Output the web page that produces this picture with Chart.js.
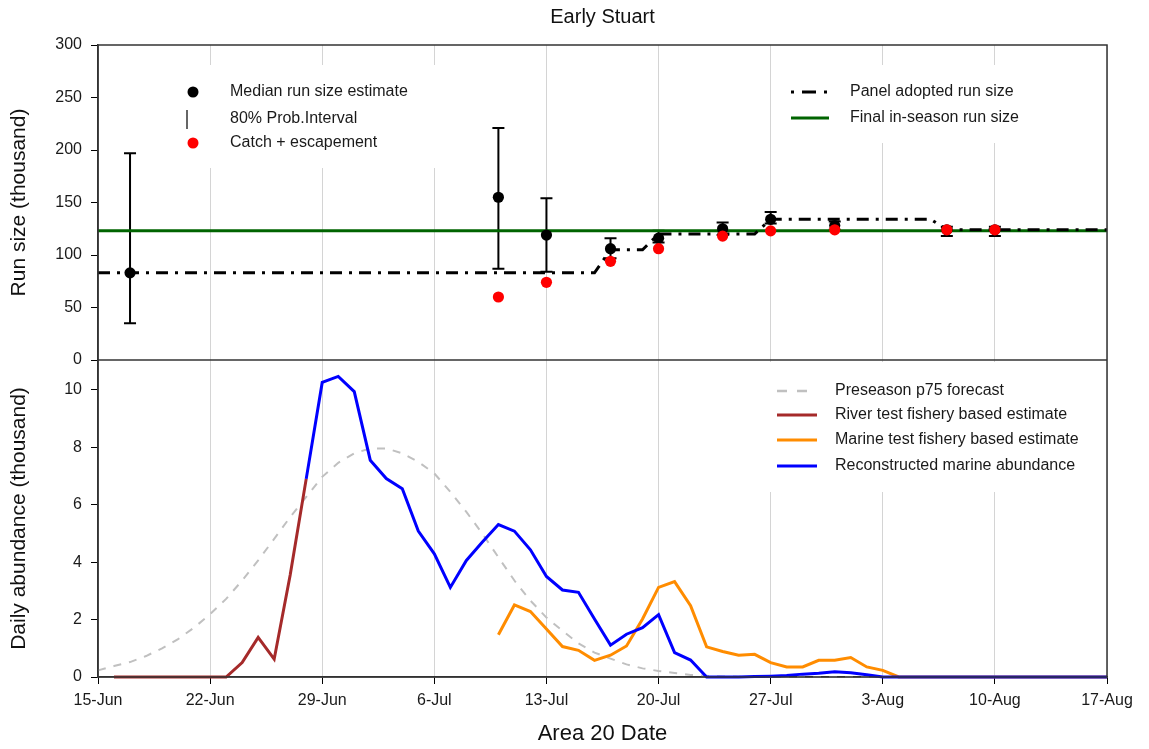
<!DOCTYPE html>
<html>
<head>
<meta charset="utf-8">
<script src="https://cdn.jsdelivr.net/npm/chart.js@4.4.1/dist/chart.umd.min.js"></script>
<style>
  html, body { margin: 0; padding: 0; background: #fff; }
  canvas { display: block; }
</style>
</head>
<body>
<canvas id="runChart" width="1149" height="749"></canvas>
<script>
// Early Stuart: in-season run size (top) and daily abundance (bottom)
// x axis is a day number counted from 15-Jun

const FONT = '"Liberation Sans", Arial, sans-serif';

// ---- top panel (thousand fish) ----
const estDates = ["17-Jun", "10-Jul", "13-Jul", "17-Jul", "20-Jul", "24-Jul", "27-Jul", "31-Jul", "7-Aug", "10-Aug"];
const estMedian = [83, 155, 119, 106, 116, 125, 134, 128, 124, 124];
const estLow = [35, 87, 84, 97, 112, 119, 130, 124, 118, 118];
const estHigh = [197, 221, 154, 116, 123, 131, 141, 132, 127, 127];

const catchDates = ["10-Jul", "13-Jul", "17-Jul", "20-Jul", "24-Jul", "27-Jul", "31-Jul", "7-Aug", "10-Aug"];
const catchEsc = [60, 74, 94, 106, 118, 123, 124, 124, 124];

const panelDates = ["15-Jun", "16-Jul", "17-Jul", "19-Jul", "20-Jul", "26-Jul", "27-Jul", "6-Aug", "7-Aug", "17-Aug"];
const panelRunSize = [83, 83, 105, 105, 120, 120, 134, 134, 124, 124];

const finalRunSize = 123;

// ---- bottom panel, daily values (thousand fish) ----
const forecastStart = "15-Jun";
const forecastP75 = [0.23, 0.38, 0.52, 0.73, 1.0, 1.32, 1.72, 2.19, 2.72, 3.36, 4.06, 4.81, 5.57, 6.27,
  6.97, 7.46, 7.79, 7.96, 7.96, 7.79, 7.49, 7.09, 6.45, 5.75, 4.99, 4.17, 3.36, 2.66, 2.07, 1.61,
  1.17, 0.85, 0.64, 0.44, 0.3, 0.21, 0.14, 0.07, 0.04, 0.02, 0.01, 0, 0, 0, 0, 0, 0, 0, 0, 0, 0,
  0, 0, 0, 0, 0, 0, 0, 0, 0, 0, 0, 0, 0];

const riverStart = "16-Jun";
const riverEst = [0, 0, 0, 0, 0, 0, 0, 0, 0.5, 1.38, 0.62, 3.55, 6.9];

const marineStart = "10-Jul";
const marineEst = [1.47, 2.51, 2.28, 1.67, 1.06, 0.93, 0.58, 0.76, 1.08, 2.02, 3.12, 3.32, 2.48, 1.05,
  0.89, 0.76, 0.79, 0.5, 0.35, 0.35, 0.58, 0.58, 0.68, 0.35, 0.23, 0, 0, 0, 0, 0, 0, 0, 0, 0, 0, 0, 0, 0, 0];

const reconStart = "28-Jun";
const reconAbund = [6.9, 10.26, 10.47, 9.94, 7.55, 6.91, 6.56, 5.08, 4.29, 3.12, 4.06, 4.7, 5.31, 5.08,
  4.43, 3.5, 3.03, 2.95, 2.02, 1.11, 1.49, 1.72, 2.17, 0.85, 0.59, 0, 0, 0, 0.02, 0.03, 0.05, 0.1,
  0.13, 0.18, 0.15, 0.08, 0, 0, 0, 0, 0, 0, 0, 0, 0, 0, 0, 0, 0, 0, 0];

const dayOf = (s) => {
  const [d, m] = s.split("-");
  return +d + { Jun: -15, Jul: 15, Aug: 46 }[m];
};
const dateLabel = (v) => (v < 16 ? `${v + 15}-Jun` : v < 47 ? `${v - 15}-Jul` : `${v - 46}-Aug`);
const pairs = (dates, vals) => dates.map((d, i) => ({ x: dayOf(d), y: vals[i] }));
const daily = (start, vals) => vals.map((y, i) => ({ x: dayOf(start) + i, y }));

const DASHDOT = [12, 7, 3, 7];

// legend boxes, grid masks, error bars and the panel frame
const panelDecor = {
  id: "panelDecor",
  beforeDatasetsDraw(chart) {
    const { ctx, chartArea: a, scales: { x, yT, yB } } = chart;
    ctx.save();
    ctx.fillStyle = "#fff";
    ctx.fillRect(a.left + 62, a.top + 20, 285, 103);
    ctx.fillRect(a.left + 677, a.top + 20, 290, 78);
    ctx.fillRect(a.left + 662, yB.top + 2, 340, 130);

    ctx.strokeStyle = "#000";
    ctx.lineWidth = 2;
    estDates.forEach((d, i) => {
      const px = x.getPixelForValue(dayOf(d));
      const lo = yT.getPixelForValue(estLow[i]);
      const hi = yT.getPixelForValue(estHigh[i]);
      ctx.beginPath();
      ctx.moveTo(px, lo); ctx.lineTo(px, hi);
      ctx.moveTo(px - 6, lo); ctx.lineTo(px + 6, lo);
      ctx.moveTo(px - 6, hi); ctx.lineTo(px + 6, hi);
      ctx.stroke();
    });
    ctx.restore();
  },
  afterDraw(chart) {
    const { ctx, chartArea: a, scales: { yB } } = chart;
    ctx.save();
    ctx.strokeStyle = "#333";
    ctx.lineWidth = 1.5;
    ctx.strokeRect(a.left, a.top, a.right - a.left, a.bottom - a.top);
    ctx.beginPath();
    ctx.moveTo(a.left, yB.top); ctx.lineTo(a.right, yB.top);
    ctx.stroke();

    ctx.font = `16px ${FONT}`;
    ctx.fillStyle = "#1a1a1a";
    ctx.textBaseline = "middle";
    const text = (t, tx, ty) => ctx.fillText(t, tx, ty);
    const seg = (x0, x1, yy, color, w, dash) => {
      ctx.beginPath();
      ctx.setLineDash(dash || []);
      ctx.strokeStyle = color;
      ctx.lineWidth = w;
      ctx.moveTo(x0, yy); ctx.lineTo(x1, yy);
      ctx.stroke();
      ctx.setLineDash([]);
    };
    const dot = (cx, cy, color) => {
      ctx.beginPath();
      ctx.fillStyle = color;
      ctx.arc(cx, cy, 5.5, 0, Math.PI * 2);
      ctx.fill();
      ctx.fillStyle = "#1a1a1a";
    };

    // top-left legend
    let lx = a.left + 95, tx = a.left + 132, ly = a.top + 47;
    dot(lx, ly, "#000"); text("Median run size estimate", tx, ly);
    ctx.beginPath(); ctx.strokeStyle = "#333"; ctx.lineWidth = 1.5;
    ctx.moveTo(lx - 6, ly + 18); ctx.lineTo(lx - 6, ly + 37); ctx.stroke();
    text("80% Prob.Interval", tx, ly + 27);
    dot(lx, ly + 51, "#ff0000"); text("Catch + escapement", tx, ly + 51);

    // top-right legend
    lx = a.left + 693; tx = a.left + 752;
    seg(lx, lx + 38, ly, "#000", 3, [3, 8, 14, 8]); text("Panel adopted run size", tx, ly);
    seg(lx, lx + 38, ly + 26, "#006400", 3); text("Final in-season run size", tx, ly + 26);

    // bottom legend
    lx = a.left + 679; tx = a.left + 737; ly = yB.top + 31;
    seg(lx, lx + 40, ly, "#c0c0c0", 2.5, [10, 10]); text("Preseason p75 forecast", tx, ly);
    seg(lx, lx + 40, ly + 24, "#a52a2a", 3); text("River test fishery based estimate", tx, ly + 24);
    seg(lx, lx + 40, ly + 49, "#ff8c00", 3); text("Marine test fishery based estimate", tx, ly + 49);
    seg(lx, lx + 40, ly + 75, "#0000ff", 3); text("Reconstructed marine abundance", tx, ly + 75);
    ctx.restore();
  },
};

const lineDs = (label, data, color, width, yAxisID, order, extra) => ({
  type: "line", label, data, yAxisID, order,
  borderColor: color, backgroundColor: color, borderWidth: width,
  pointRadius: 0, tension: 0, clip: 6, ...extra,
});
const dotDs = (label, data, color, order) => ({
  type: "scatter", label, data, yAxisID: "yT", order,
  backgroundColor: color, borderColor: color, borderWidth: 0,
  pointRadius: 5.6, pointHoverRadius: 5.6, showLine: false,
});

new Chart(document.getElementById("runChart"), {
  data: {
    datasets: [
      dotDs("Catch + escapement", pairs(catchDates, catchEsc), "#ff0000", 1),
      dotDs("Median run size estimate", pairs(estDates, estMedian), "#000000", 2),
      lineDs("Panel adopted run size", pairs(panelDates, panelRunSize), "#000000", 3, "yT", 3, { borderDash: DASHDOT }),
      lineDs("Final in-season run size", [{ x: 0, y: finalRunSize }, { x: 63, y: finalRunSize }], "#006400", 3, "yT", 4),
      lineDs("Reconstructed marine abundance", daily(reconStart, reconAbund), "#0000ff", 3, "yB", 5),
      lineDs("Marine test fishery based estimate", daily(marineStart, marineEst), "#ff8c00", 3, "yB", 6),
      lineDs("River test fishery based estimate", daily(riverStart, riverEst), "#a52a2a", 3, "yB", 7),
      lineDs("Preseason p75 forecast", daily(forecastStart, forecastP75), "#c0c0c0", 2, "yB", 8, { borderDash: [8, 8] }),
    ],
  },
  options: {
    responsive: false,
    animation: false,
    events: [],
    layout: { padding: { left: 0, right: 42, top: 0, bottom: 0 } },
    plugins: {
      legend: { display: false },
      tooltip: { enabled: false },
      title: {
        display: true,
        text: "Early Stuart",
        fullSize: false,
        color: "#111",
        font: { family: FONT, size: 20, weight: "normal" },
        padding: { top: 5, bottom: 16 },
      },
    },
    scales: {
      x: {
        type: "linear",
        min: 0,
        max: 63,
        afterFit: (s) => { s.height = 72; },
        ticks: {
          stepSize: 7,
          padding: 7,
          maxRotation: 0,
          color: "#1a1a1a",
          font: { family: FONT, size: 16 },
          callback: (v) => dateLabel(v),
        },
        grid: { color: "#d4d4d4", lineWidth: 1, tickColor: "#000", tickLength: 7 },
        border: { display: true, color: "#333", width: 1.5 },
        title: {
          display: true,
          text: "Area 20 Date",
          color: "#111",
          font: { family: FONT, size: 22 },
          padding: { top: 0, bottom: 2 },
        },
      },
      yB: {
        type: "linear",
        position: "left",
        stack: "panels",
        stackWeight: 317,
        min: 0,
        max: 11.04,
        afterFit: (s) => { s.width = 98; },
        ticks: {
          stepSize: 2,
          includeBounds: false,
          padding: 9,
          color: "#1a1a1a",
          font: { family: FONT, size: 16 },
        },
        grid: { drawOnChartArea: false, tickColor: "#000", tickLength: 7 },
        border: { display: true, color: "#333", width: 1.5 },
        title: {
          display: true,
          text: "Daily abundance (thousand)",
          color: "#111",
          font: { family: FONT, size: 21 },
          padding: { top: 7, bottom: 0 },
        },
      },
      yT: {
        type: "linear",
        position: "left",
        stack: "panels",
        stackWeight: 315,
        min: 0,
        max: 300,
        afterFit: (s) => { s.width = 98; },
        ticks: {
          stepSize: 50,
          padding: 9,
          color: "#1a1a1a",
          font: { family: FONT, size: 16 },
        },
        grid: { drawOnChartArea: false, tickColor: "#000", tickLength: 7 },
        border: { display: true, color: "#333", width: 1.5 },
        title: {
          display: true,
          text: "Run size (thousand)",
          color: "#111",
          font: { family: FONT, size: 21 },
          padding: { top: 7, bottom: 0 },
        },
      },
    },
  },
  plugins: [panelDecor],
});
</script>
</body>
</html>
